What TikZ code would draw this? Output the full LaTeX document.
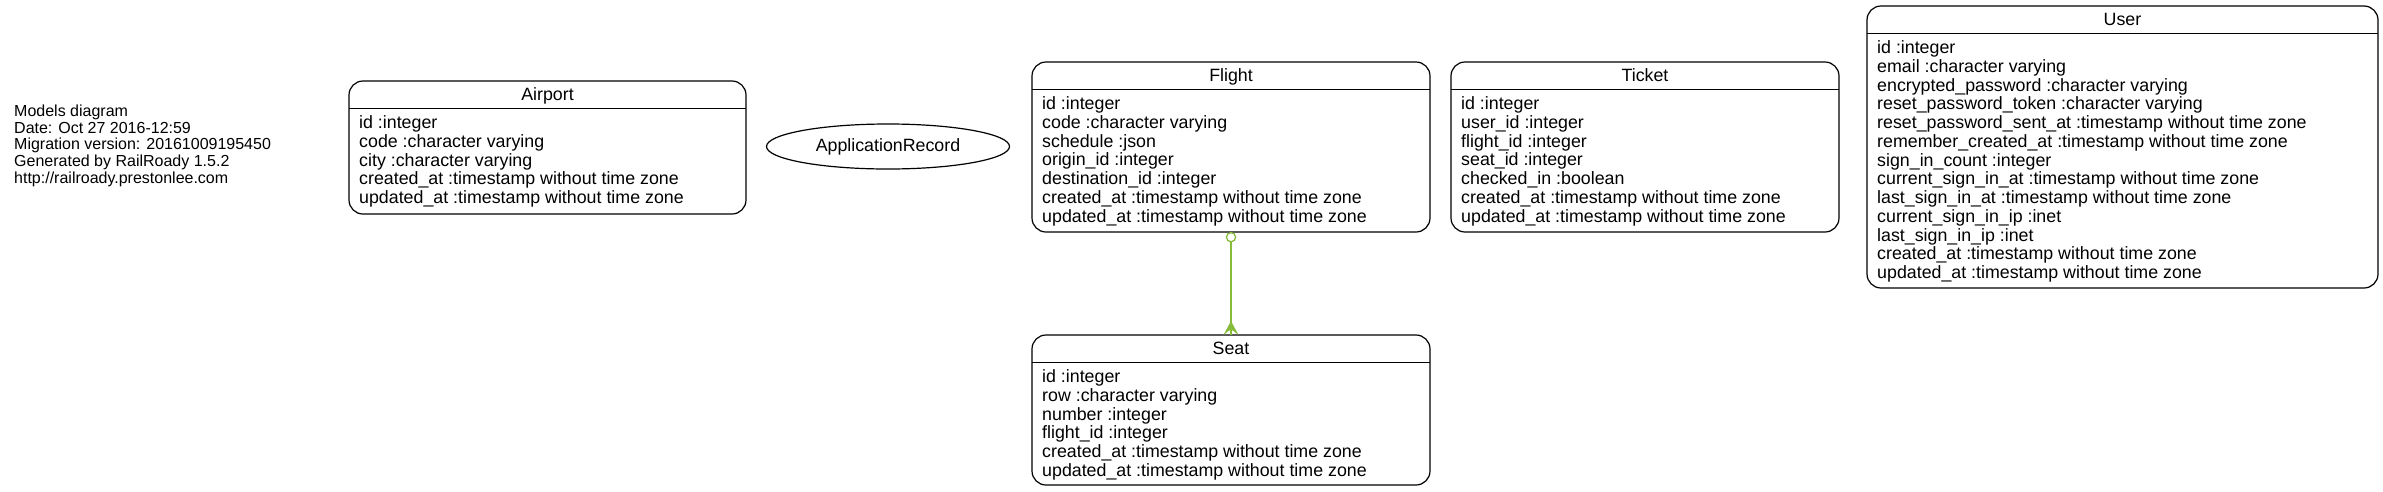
\documentclass[tikz,border=0pt]{standalone}
\usepackage{fontspec}
\setmainfont{Liberation Sans}
\usetikzlibrary{calc,shapes.geometric}
\definecolor{relgreen}{RGB}{135,188,58}
\begin{document}
\begin{tikzpicture}[x=1pt,y=-1pt,
  tbl/.style={draw, line width=1.2pt, rounded corners=14pt, inner sep=0pt, outer sep=0pt, anchor=north west},
  hdr/.style={line width=1.2pt},
  ttl/.style={anchor=base, inner sep=0pt, font=\fontsize{17.8}{18.75}\selectfont},
  fields/.style={anchor=north west, inner sep=0pt, align=left, font=\fontsize{17.8}{18.75}\selectfont},
  infobox/.style={anchor=north west, inner sep=0pt, align=left, font=\fontsize{16}{16.8}\selectfont},
  ellnode/.style={draw, ellipse, line width=1.2pt, inner sep=0pt, minimum width=243pt, minimum height=45pt, font=\fontsize{17.8}{18.75}\selectfont},
  rel/.style={draw=relgreen, line width=1.3pt},
  relfill/.style={fill=relgreen}
]
\useasboundingbox (0,0) rectangle (2383,491);

% graph label
\node[infobox] (info) at (14,104) {\rule{0pt}{12pt}Models diagram\\
Date: Oct 27 2016-12:59\\
Migration version: 20161009195450\\
Generated by RailRoady 1.5.2\\
http://railroady.prestonlee.com};

% Airport
\node[tbl, minimum width=397pt, minimum height=133pt] (airport) at (349,81) {};
\draw[hdr] ($(airport.north west)+(0,27.5)$) -- ($(airport.north east)+(0,27.5)$);
\node[ttl] (airport-t) at ($(airport.north)+(0,19)$) {Airport};
\node[fields] (airport-f) at ($(airport.north west)+(10,33.5)$) {\rule{0pt}{14pt}id :integer\\
code :character varying\\
city :character varying\\
created\_at :timestamp without time zone\\
updated\_at :timestamp without time zone};

% ApplicationRecord
\node[ellnode] (apprec) at (888,146.5) {ApplicationRecord};

% Flight
\node[tbl, minimum width=398pt, minimum height=170pt] (flight) at (1032,62) {};
\draw[hdr] ($(flight.north west)+(0,27.5)$) -- ($(flight.north east)+(0,27.5)$);
\node[ttl] (flight-t) at ($(flight.north)+(0,19)$) {Flight};
\node[fields] (flight-f) at ($(flight.north west)+(10,33.5)$) {\rule{0pt}{14pt}id :integer\\
code :character varying\\
schedule :json\\
origin\_id :integer\\
destination\_id :integer\\
created\_at :timestamp without time zone\\
updated\_at :timestamp without time zone};

% Ticket
\node[tbl, minimum width=388pt, minimum height=170pt] (ticket) at (1451,62) {};
\draw[hdr] ($(ticket.north west)+(0,27.5)$) -- ($(ticket.north east)+(0,27.5)$);
\node[ttl] (ticket-t) at ($(ticket.north)+(0,19)$) {Ticket};
\node[fields] (ticket-f) at ($(ticket.north west)+(10,33.5)$) {\rule{0pt}{14pt}id :integer\\
user\_id :integer\\
flight\_id :integer\\
seat\_id :integer\\
checked\_in :boolean\\
created\_at :timestamp without time zone\\
updated\_at :timestamp without time zone};

% User
\node[tbl, minimum width=511pt, minimum height=282pt] (user) at (1867,6) {};
\draw[hdr] ($(user.north west)+(0,27.5)$) -- ($(user.north east)+(0,27.5)$);
\node[ttl] (user-t) at ($(user.north)+(0,19)$) {User};
\node[fields] (user-f) at ($(user.north west)+(10,33.5)$) {\rule{0pt}{14pt}id :integer\\
email :character varying\\
encrypted\_password :character varying\\
reset\_password\_token :character varying\\
reset\_password\_sent\_at :timestamp without time zone\\
remember\_created\_at :timestamp without time zone\\
sign\_in\_count :integer\\
current\_sign\_in\_at :timestamp without time zone\\
last\_sign\_in\_at :timestamp without time zone\\
current\_sign\_in\_ip :inet\\
last\_sign\_in\_ip :inet\\
created\_at :timestamp without time zone\\
updated\_at :timestamp without time zone};

% Seat
\node[tbl, minimum width=398pt, minimum height=150pt] (seat) at (1032,335) {};
\draw[hdr] ($(seat.north west)+(0,27.5)$) -- ($(seat.north east)+(0,27.5)$);
\node[ttl] (seat-t) at ($(seat.north)+(0,19)$) {Seat};
\node[fields] (seat-f) at ($(seat.north west)+(10,33.5)$) {\rule{0pt}{14pt}id :integer\\
row :character varying\\
number :integer\\
flight\_id :integer\\
created\_at :timestamp without time zone\\
updated\_at :timestamp without time zone};

% relation Flight -> Seat
\draw[rel] (flight.south) -- (seat.north);
\draw[rel, fill=white] ($(flight.south)+(0,5.2)$) circle (4.6);
\fill[relfill] ($(seat.north)+(-7.5,0)$) -- ($(seat.north)+(0,-14)$) -- ($(seat.north)+(7.5,0)$)
  -- ($(seat.north)+(1.3,-5)$) -- (seat.north) -- ($(seat.north)+(-1.3,-5)$) -- cycle;
\end{tikzpicture}
\end{document}
